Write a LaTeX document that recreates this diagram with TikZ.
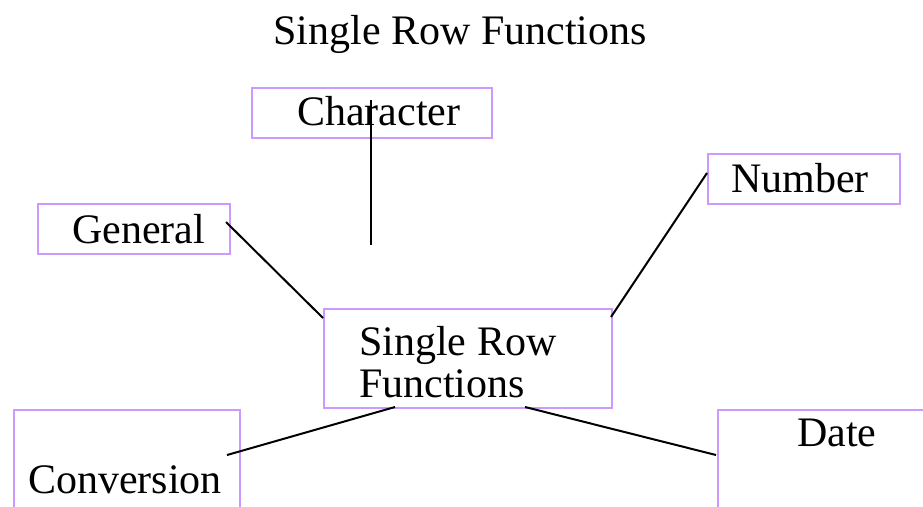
\documentclass[tikz,border=0pt]{standalone}
\usepackage{fontspec}
\setmainfont{Liberation Serif}
\definecolor{boxpurple}{RGB}{204,153,255}
\tikzset{
  catbox/.style={draw=boxpurple, line width=2.2pt, rectangle, inner sep=0pt, anchor=north west},
  label/.style={inner sep=0pt, anchor=base west, font=\fontsize{42}{42}\selectfont},
  link/.style={draw=black, line width=2pt}
}
\begin{document}
\begin{tikzpicture}[x=1pt, y=-1pt]
  \useasboundingbox (0,0) rectangle (923,506);
  \clip (0,0) rectangle (923,506);

  % heading
  \node[inner sep=0pt, anchor=base, font=\fontsize{42}{42}\selectfont] (title) at (460,44) {Single Row Functions};

  % category boxes
  \node[catbox, minimum width=240pt, minimum height=50pt] (charbox) at (251,87) {};
  \node[catbox, minimum width=192pt, minimum height=50pt] (genbox) at (37,203) {};
  \node[catbox, minimum width=192pt, minimum height=50pt] (numbox) at (707,153) {};
  \node[catbox, minimum width=288pt, minimum height=99pt] (srfbox) at (323,308) {};
  \node[catbox, minimum width=226pt, minimum height=130pt] (convbox) at (13,409) {};
  \node[catbox, minimum width=240pt, minimum height=130pt] (datebox) at (717,409) {};

  % box labels
  \node[label] (chartext) at (297,125) {Character};
  \node[label] (gentext) at (72,243) {General};
  \node[label] (numtext) at (731,192) {Number};
  \node[label] (srftext1) at (359,355) {Single Row};
  \node[label] (srftext2) at (359,397) {Functions};
  \node[label] (convtext) at (28,493) {Conversion};
  \node[label] (datetext) at (797,446) {Date};

  % connector end points
  \coordinate (charA) at (371,100);
  \coordinate (charB) at (371,245);
  \coordinate (genA) at (226,222);
  \coordinate (genB) at (323,318);
  \coordinate (numA) at (611,317);
  \coordinate (numB) at (707,173);
  \coordinate (convA) at (395,407);
  \coordinate (convB) at (227,455);
  \coordinate (dateA) at (525,407);
  \coordinate (dateB) at (716,455);

  % connectors
  \draw[link] (charA) -- (charB);
  \draw[link] (genA) -- (genB);
  \draw[link] (numA) -- (numB);
  \draw[link] (convA) -- (convB);
  \draw[link] (dateA) -- (dateB);
\end{tikzpicture}
\end{document}
